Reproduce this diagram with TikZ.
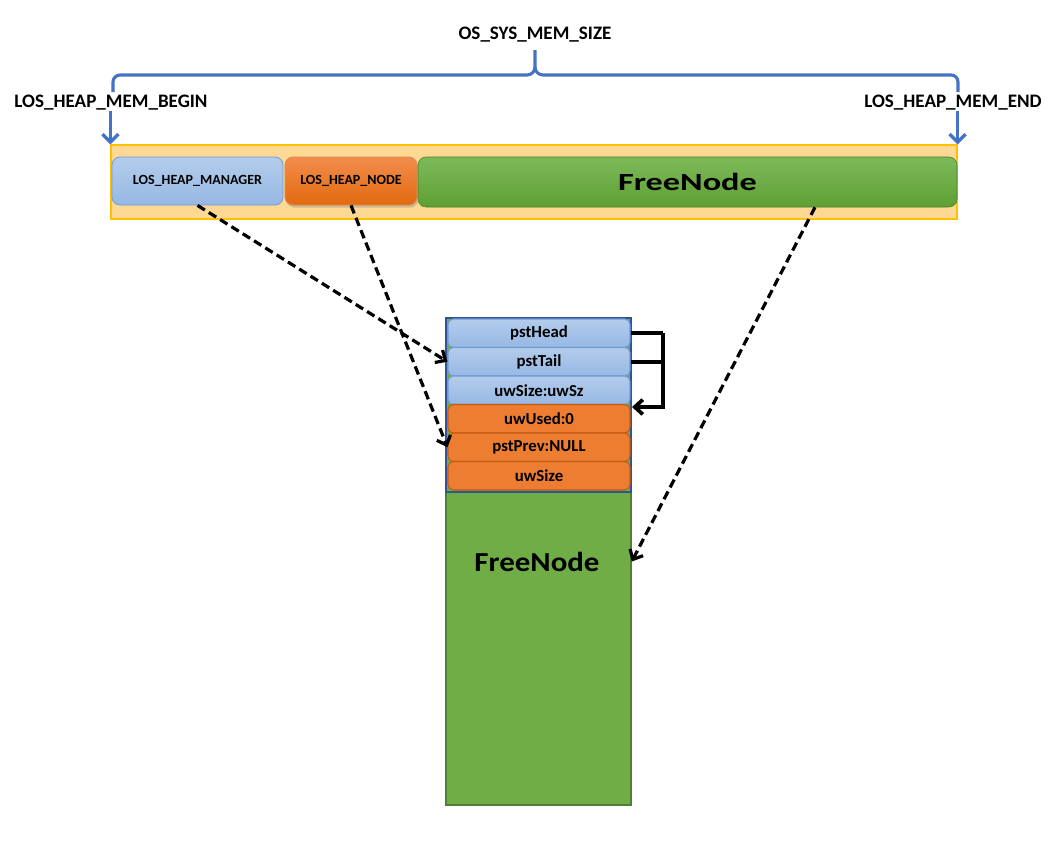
\documentclass[tikz,border=0pt]{standalone}
\usepackage{fontspec}
\usepackage{graphicx}
\setmainfont{Carlito}
\usetikzlibrary{arrows.meta,calc,shadows}
\definecolor{braceblue}{HTML}{4472C4}
\definecolor{barfill}{HTML}{FFD993}
\definecolor{barline}{HTML}{FFC000}
\definecolor{bluetop}{HTML}{B3CCEB}
\definecolor{bluebot}{HTML}{97B8E4}
\definecolor{blueline}{HTML}{6F9BD6}
\definecolor{orgtop}{HTML}{F28D4C}
\definecolor{orgbot}{HTML}{E2690F}
\definecolor{orgfill}{HTML}{ED7D31}
\definecolor{orgline}{HTML}{C55A11}
\definecolor{grntop}{HTML}{7DB95A}
\definecolor{grnbot}{HTML}{5EA033}
\definecolor{grnfill}{HTML}{70AD47}
\definecolor{grnline}{HTML}{507E32}
\definecolor{hdrline}{HTML}{2F5597}
\tikzset{
  lbl/.style={font=\fontsize{14.3}{16}\selectfont\bfseries, inner sep=0pt},
  boxlbl/.style={font=\fontsize{10.5}{12}\selectfont\bfseries},
  bluebox/.style={draw=blueline, line width=0.6pt, top color=bluetop, bottom color=bluebot, rounded corners=6pt, inner sep=0pt, minimum height=36pt},
  orgbox/.style={draw=orgline!70, line width=0.6pt, top color=orgtop, bottom color=orgbot, rounded corners=6pt, inner sep=0pt, minimum height=36pt, drop shadow={shadow xshift=1pt, shadow yshift=-2pt, opacity=0.35}},
  rowblue/.style={draw=blueline, line width=0.8pt, top color=bluetop, bottom color=bluebot, rounded corners=4pt, inner sep=0pt, minimum width=136.5pt, minimum height=21.375pt, font=\fontsize{12.6}{14}\selectfont\bfseries},
  roworg/.style={draw=orgline, line width=0.8pt, fill=orgfill, rounded corners=4pt, inner sep=0pt, minimum width=136.5pt, minimum height=21.375pt, font=\fontsize{12.6}{14}\selectfont\bfseries},
  bluearrow/.style={draw=braceblue, line width=2.5pt, -{Straight Barb[length=6pt,width=12pt]}},
  dasharrow/.style={draw=black, line width=2.4pt, dash pattern=on 6.5pt off 3.5pt, -{Straight Barb[length=6pt,width=11pt]}},
  linkline/.style={draw=black, line width=2.8pt},
  linkarrow/.style={draw=black, line width=2.8pt, -{Straight Barb[length=6pt,width=11pt]}},
}
\begin{document}
\begin{tikzpicture}[x=0.75pt,y=-0.75pt]
\useasboundingbox[fill=white] (0,0) rectangle (1063,840);

% title and brace
\node[lbl] (size) at (535,35) {OS\_SYS\_MEM\_SIZE};
\draw[braceblue, line width=2.3pt, line join=round]
  (113,92) -- (113,82) to[out=90,in=180] (120,75) -- (527,75)
  to[out=0,in=-90] (535,67) -- (535,50);
\draw[braceblue, line width=2.3pt, line join=round]
  (535,67) to[out=-90,in=180] (543,75) -- (951,75)
  to[out=0,in=90] (958,82) -- (958,92);

\node[lbl] (beginlbl) at (111,103) {LOS\_HEAP\_MEM\_BEGIN};
\node[lbl] (endlbl) at (953,103) {LOS\_HEAP\_MEM\_END};

% top bar
\node[draw=barline, fill=barfill, line width=0.8pt, minimum width=634.5pt, minimum height=55.5pt, inner sep=0pt] (bar) at (534,182) {};
\node[bluebox, minimum width=128.25pt, boxlbl] (mgr) at (197.5,181) {LOS\_HEAP\_MANAGER};
\node[orgbox, minimum width=99pt, boxlbl] (hnode) at (351,181) {LOS\_HEAP\_NODE};
\node[draw=grnbot!80!black, line width=0.4pt, top color=grntop, bottom color=grnbot, rounded corners=6pt, inner sep=0pt, minimum width=404.25pt, minimum height=37.5pt] (topfree) at (687.5,182) {\scalebox{1.39}[1]{\fontsize{18.5}{20}\selectfont\bfseries FreeNode}};

\draw[bluearrow] (beginlbl.south -| bar.north west) -- (bar.north west);
\draw[bluearrow] (endlbl.south -| bar.north east) -- (bar.north east);

% stack
\node[draw=grnline, fill=grnfill, line width=1.2pt, minimum width=138.75pt, minimum height=365.25pt, inner sep=0pt] (stack) at (538.5,561.5) {};
\node[draw=hdrline, line width=1pt, minimum width=138.75pt, minimum height=130.5pt, inner sep=0pt] (hdr) at (538.5,405) {};
\node[rowblue] (pstHead) at (539,333.25) {pstHead};
\node[rowblue] (pstTail) at (539,361.75) {pstTail};
\node[rowblue] (uwSz) at (539,390.25) {uwSize:uwSz};
\node[roworg] (uwUsed) at (539,418.75) {uwUsed:0};
\node[roworg] (pstPrev) at (539,447.25) {pstPrev:NULL};
\node[roworg] (uwSize) at (539,475.75) {uwSize};
\node[inner sep=0pt] (bigfree) at (537,562) {\scalebox{1.125}[1]{\fontsize{20.6}{22}\selectfont\bfseries FreeNode}};

% self links
\coordinate (bk1) at (663,333.25);
\coordinate (bk2) at (663,407);
\coordinate (bkend) at (632,407);
\draw[linkline] (pstHead.east) -- (bk1);
\draw[linkline] (pstTail.east) -- (pstTail.east -| bk1);
\draw[linkarrow] (bk1) -- (bk2) -- (bkend);

% dashed pointers
\draw[dasharrow] (mgr.south) -- (pstTail.west);
\draw[dasharrow] (hnode.south) -- (pstPrev.west);
\coordinate (fstart) at ($(topfree.south)+(127.5,0)$);
\draw[dasharrow] (fstart) -- (stack.east);
\end{tikzpicture}
\end{document}
